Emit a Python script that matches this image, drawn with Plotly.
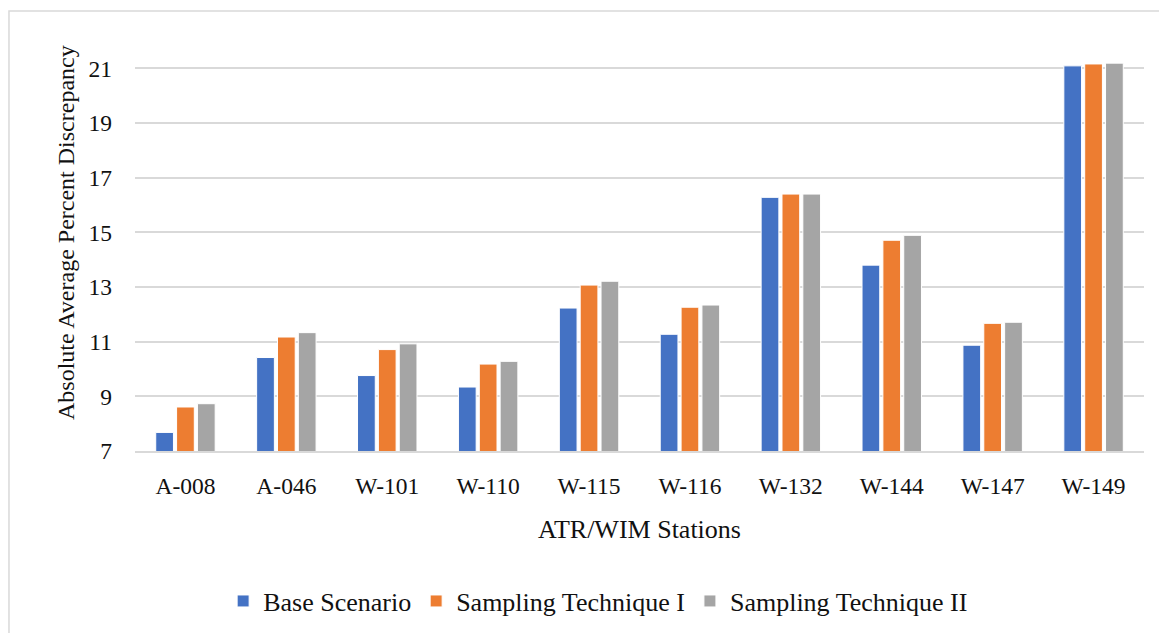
import plotly.graph_objects as go

# Stations along the x axis
stations = ["A-008", "A-046", "W-101", "W-110", "W-115",
            "W-116", "W-132", "W-144", "W-147", "W-149"]

# Absolute average percent discrepancy per scenario
base_scenario = [7.68, 10.42, 9.76, 9.34, 12.23, 11.27, 16.28, 13.80, 10.87, 21.09]
sampling_tech_1 = [8.61, 11.17, 10.71, 10.18, 13.07, 12.26, 16.40, 14.71, 11.67, 21.16]
sampling_tech_2 = [8.73, 11.33, 10.92, 10.28, 13.21, 12.34, 16.40, 14.89, 11.71, 21.19]

y_ticks = [7, 9, 11, 13, 15, 17, 19, 21]

FONT = "Liberation Serif"
GRID = "#d9d9d9"
INK = "#111111"

series = [
    ("Base Scenario", base_scenario, "#4472C4"),
    ("Sampling Technique I", sampling_tech_1, "#ED7D31"),
    ("Sampling Technique II", sampling_tech_2, "#A5A5A5"),
]

fig = go.Figure()
for name, vals, color in series:
    fig.add_trace(go.Bar(
        x=stations, y=vals, name=name,
        marker=dict(color=color, line=dict(color="white", width=1)),
    ))

fig.update_layout(
    width=1159, height=633,
    margin=dict(l=135, r=15, t=41, b=182, autoexpand=False),
    paper_bgcolor="white", plot_bgcolor="white",
    barmode="group", bargap=0.38, bargroupgap=0.15,
    font=dict(family=FONT, size=23, color=INK),
    showlegend=True,
    legend=dict(
        orientation="h", x=0.459, xanchor="center", y=-0.366, yanchor="middle",
        font=dict(family=FONT, size=26, color=INK),
        traceorder="normal", bgcolor="rgba(0,0,0,0)",
    ),
    xaxis=dict(
        showgrid=False, showline=True, linecolor=GRID, linewidth=1.5,
        ticks="", ticklabelstandoff=13,
        tickfont=dict(family=FONT, size=23.5, color=INK),
        title=dict(text="ATR/WIM Stations", standoff=22,
                   font=dict(family=FONT, size=26, color=INK)),
    ),
    yaxis=dict(
        range=[7, 22], tickvals=y_ticks, showgrid=True, gridcolor=GRID,
        gridwidth=1.5, zeroline=False, showline=False, ticks="",
        ticklabelstandoff=22,
        tickfont=dict(family=FONT, size=23.5, color=INK),
    ),
    annotations=[dict(
        text="Absolute Average Percent Discrepancy",
        xref="paper", yref="paper", x=-0.0684, y=0.534,
        xanchor="center", yanchor="middle", textangle=-90, showarrow=False,
        font=dict(family=FONT, size=24, color=INK),
    )],
    shapes=[dict(
        type="rect", xref="paper", yref="paper",
        x0=-0.1249, x1=1.03, y0=-0.5, y1=1.0732,
        line=dict(color=GRID, width=1.5), fillcolor="rgba(0,0,0,0)",
        layer="below",
    )],
)

fig.write_html("out.html")
